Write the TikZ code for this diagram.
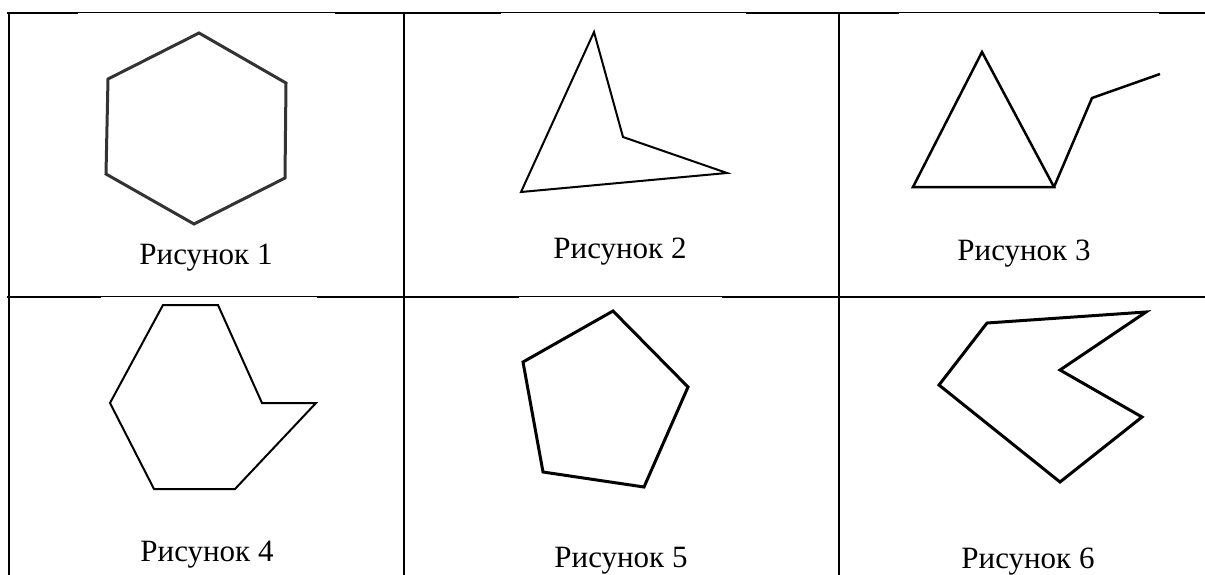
\documentclass[tikz,border=0pt]{standalone}
\usepackage{fontspec}
\setmainfont{Liberation Serif}
\usetikzlibrary{positioning}
\definecolor{hexgray}{HTML}{333333}
\tikzset{
  rule/.style={draw=black,line width=2pt,line cap=rect},
  thinrule/.style={draw=black,line width=1pt},
  figure/.style={draw=black,line width=2.2pt,line join=miter},
  caption/.style={anchor=base,inner sep=0pt,font=\fontsize{31}{37}\selectfont}
}

\begin{document}
\begin{tikzpicture}[x=1pt,y=-1pt]
  \useasboundingbox[fill=white] (0,0) rectangle (1205,574);
  % table grid
  \draw[thinrule] (8,12.5) -- (1205,12.5);
  \draw[thinrule] (8,296.5) -- (1205,296.5);
  \draw[rule] (8,13) -- (77,13) (336,13) -- (500,13) (747,13) -- (898,13) (1160,13) -- (1205,13);
  \draw[rule] (8,297) -- (100,297) (318,297) -- (518,297) (723,297) -- (1205,297);
  \draw[rule] (8.5,13) -- (8.5,574);
  \draw[rule] (404,13) -- (404,574);
  \draw[rule] (839,13) -- (839,574);
  % figures
  \draw[figure,draw=hexgray,line width=3pt] (199,33) -- (286,83) -- (285,178) -- (194,224) -- (106,174) -- (108,79) -- cycle;
  \draw[figure,line width=2pt] (594,32) -- (623,137) -- (727,173) -- (521,192) -- cycle;
  \draw[figure,line width=2.5pt] (982,52) -- (1054,187) -- (913,187) -- cycle;
  \draw[figure,line width=2.5pt] (1054,187) -- (1092,98) -- (1160,74);
  \draw[figure,line width=2pt] (163,305) -- (218,305) -- (262,403) -- (316,403) -- (235,489) -- (154,489) -- (110,403) -- cycle;
  \draw[figure,line width=3pt] (613,311) -- (688,387) -- (644,487) -- (543,472) -- (523,362) -- cycle;
  \draw[figure,line width=3pt] (987,323) -- (1146,312) -- (1060,370) -- (1142,417) -- (1060,482) -- (939,385) -- cycle;
  % captions
  \node[caption] (cap1) at (206,264) {Рисунок 1};
  \node[caption] (cap2) at (620,258) {Рисунок 2};
  \node[caption] (cap3) at (1024,260) {Рисунок 3};
  \node[caption] (cap4) at (207,561) {Рисунок 4};
  \node[caption] (cap5) at (621,567) {Рисунок 5};
  \node[caption] (cap6) at (1028,568) {Рисунок 6};
\end{tikzpicture}
\end{document}
